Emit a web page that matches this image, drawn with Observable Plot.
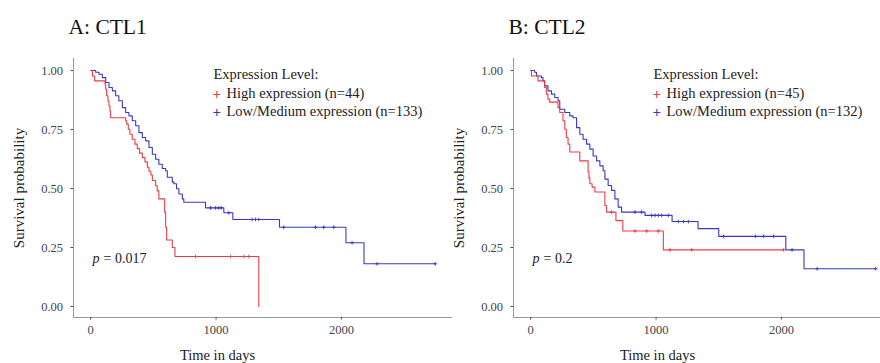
<!DOCTYPE html>
<html><head><meta charset="utf-8">
<script src="https://cdn.jsdelivr.net/npm/d3@7"></script>
<script src="https://cdn.jsdelivr.net/npm/@observablehq/plot@0.6"></script>
<style>
body{margin:0;background:#fff;overflow:hidden}
#wrap{position:relative;width:880px;height:363px;overflow:hidden;background:#fff}
.panel{position:absolute;top:0;width:452px;height:363px}
.panel text{font-family:'Liberation Serif','Times New Roman',serif}
</style></head><body>
<div id="wrap"><div class="panel" id="pa" style="left:0"></div><div class="panel" id="pb" style="left:440px"></div></div>
<script>
// ---------- text ----------
const panelTitles = ["A: CTL1", "B: CTL2"];
const legendTitle = "Expression Level:";
const highLabels = ["High expression (n=44)", "High expression (n=45)"];
const lowLabels = ["Low/Medium expression (n=133)", "Low/Medium expression (n=132)"];
const pValues = ["0.017", "0.2"];
const xLabel = "Time in days";
const yLabel = "Survival probability";
const dayTicks = [0, 1000, 2000];
const probTicks = [0, 0.25, 0.5, 0.75, 1];

// ---------- panel A: CTL1 ----------
const aHighT = [0, 14, 32, 114, 120, 127, 138, 146, 154, 159, 279, 287, 300, 313, 332, 353, 372, 390, 412, 433, 452, 465, 480, 492, 518, 531, 544, 590, 598, 606, 651, 672, 1341];
const aHighS = [1, 0.977, 0.956, 0.942, 0.921, 0.893, 0.871, 0.85, 0.828, 0.80, 0.787, 0.773, 0.751, 0.73, 0.709, 0.688, 0.669, 0.65, 0.631, 0.613, 0.59, 0.573, 0.557, 0.534, 0.512, 0.49, 0.456, 0.40, 0.336, 0.282, 0.25, 0.212, 0];
const aHighCens = [837, 1116, 1222, 1262];
const aLowT = [0, 40, 66, 93, 120, 146, 173, 199, 225, 253, 279, 305, 332, 359, 385, 412, 438, 465, 492, 518, 544, 571, 598, 611, 651, 664, 685, 704, 731, 743, 916, 1062, 1134, 1506, 2036, 2180, 2749];
const aLowS = [1, 0.993, 0.984, 0.97, 0.949, 0.928, 0.914, 0.893, 0.872, 0.843, 0.822, 0.808, 0.787, 0.766, 0.737, 0.716, 0.702, 0.674, 0.645, 0.624, 0.603, 0.585, 0.575, 0.548, 0.527, 0.52, 0.499, 0.477, 0.456, 0.442, 0.418, 0.397, 0.369, 0.336, 0.27, 0.181, 0.181];
const aLowCens = [956, 996, 1022, 1041, 1102, 1288, 1315, 1341, 1540, 1793, 1859, 1939, 2085, 2284, 2749];

// ---------- panel B: CTL2 ----------
const bHighT = [0, 6, 58, 112, 125, 138, 152, 218, 232, 258, 272, 285, 298, 312, 392, 458, 465, 472, 490, 512, 592, 605, 680, 735, 1058, 2018];
const bHighS = [1, 0.977, 0.956, 0.928, 0.9, 0.879, 0.866, 0.843, 0.822, 0.787, 0.751, 0.716, 0.688, 0.655, 0.617, 0.57, 0.545, 0.52, 0.506, 0.485, 0.428, 0.40, 0.364, 0.32, 0.24, 0.24];
const bHighCens = [645, 832, 925, 1018, 1112, 1285, 2018];
const bLowT = [0, 32, 46, 86, 98, 112, 138, 166, 192, 218, 232, 272, 312, 338, 366, 392, 418, 446, 472, 498, 526, 552, 578, 592, 618, 645, 672, 698, 725, 912, 1128, 1335, 1500, 2035, 2180, 2752];
const bLowS = [1, 0.993, 0.977, 0.97, 0.956, 0.935, 0.914, 0.9, 0.886, 0.872, 0.836, 0.822, 0.808, 0.80, 0.758, 0.73, 0.709, 0.688, 0.667, 0.638, 0.617, 0.596, 0.575, 0.54, 0.513, 0.492, 0.456, 0.421, 0.40, 0.386, 0.36, 0.33, 0.297, 0.24, 0.16, 0.16];
const bLowCens = [832, 885, 965, 992, 1018, 1045, 1098, 1178, 1218, 1258, 1538, 1792, 1858, 1938, 2085, 2285, 2752];

// ---------- helpers ----------
const red = "#e63f48", blue = "#3a3ac0";
const xDomain = [-137, 2886];
const yDomain = [-0.0466, 1.051];
const font = "'Liberation Serif','Times New Roman',serif";

function curve(T, S) { return T.map((t, i) => ({t, s: S[i]})); }
function censored(T, S, C) {
  return C.map(c => { let s = S[0]; for (let i = 0; i < T.length; i++) if (T[i] <= c && S[i] > 0) s = S[i]; return {t: c, s}; });
}

function panel(k, hT, hS, hC, lT, lS, lC) {
  const hi = curve(hT, hS), lo = curve(lT, lS);
  const txt = (s, o) => Plot.text([s], {text: d => d, frameAnchor: "top-left", textAnchor: "start", lineAnchor: "bottom", fontFamily: font, ...o});
  return Plot.plot({
    width: 452, height: 363,
    marginLeft: 73, marginRight: 0, marginTop: 58, marginBottom: 46,
    style: {background: "transparent", fontFamily: font, fontSize: "12.5px", color: "#333"},
    x: {domain: xDomain},
    y: {domain: yDomain},
    marks: [
      Plot.ruleX([xDomain[0]], {stroke: "#9a9a9a"}),
      Plot.ruleY([yDomain[0]], {stroke: "#9a9a9a"}),
      Plot.axisY({ticks: probTicks, tickFormat: d => d.toFixed(2), tickSize: 2.5, tickPadding: 8, color: "#444", fontSize: 12.5, fontFamily: font, label: null}),
      Plot.axisX({ticks: dayTicks, tickFormat: d => String(d), tickSize: 2.5, tickPadding: 5, color: "#444", fontSize: 12.5, fontFamily: font, label: null}),
      Plot.line(lo, {x: "t", y: "s", curve: "step-after", stroke: blue, strokeWidth: 1.1}),
      Plot.line(hi, {x: "t", y: "s", curve: "step-after", stroke: red, strokeWidth: 1.1}),
      Plot.dot(censored(lT, lS, lC), {x: "t", y: "s", symbol: "plus", r: 1.3, stroke: blue, strokeWidth: 0.9}),
      Plot.dot(censored(hT, hS, hC), {x: "t", y: "s", symbol: "plus", r: 1.3, stroke: red, strokeWidth: 0.9}),
      // title
      txt(panelTitles[k], {dx: -5, dy: -25, fontSize: 21.5, fill: "#111"}),
      // legend
      txt(legendTitle, {dx: 140, dy: 20, fontSize: 14.5, fill: "#222"}),
      txt("+", {dx: 139, dy: 40, fontSize: 15, fontWeight: "bold", fill: red}),
      txt(highLabels[k], {dx: 153, dy: 39, fontSize: 14.5, fill: "#222"}),
      txt("+", {dx: 139, dy: 58, fontSize: 15, fontWeight: "bold", fill: blue}),
      txt(lowLabels[k], {dx: 153, dy: 57, fontSize: 14.5, fill: "#222"}),
      // p-value
      txt("p", {dx: 19, dy: 204, fontSize: 14, fontStyle: "italic", fill: "#222"}),
      txt("= " + pValues[k], {dx: 30, dy: 204, fontSize: 14, fill: "#222"}),
      // axis titles
      Plot.text([xLabel], {text: d => d, frameAnchor: "bottom-left", dx: 144, dy: 42, textAnchor: "middle", lineAnchor: "bottom", fontFamily: font, fontSize: 14.5, fill: "#222"}),
      Plot.text([yLabel], {text: d => d, frameAnchor: "left", dx: -54, dy: 0, rotate: -90, textAnchor: "middle", lineAnchor: "middle", fontFamily: font, fontSize: 15, fill: "#222"})
    ]
  });
}

document.getElementById("pa").appendChild(panel(0, aHighT, aHighS, aHighCens, aLowT, aLowS, aLowCens));
document.getElementById("pb").appendChild(panel(1, bHighT, bHighS, bHighCens, bLowT, bLowS, bLowCens));
</script>
</body></html>
